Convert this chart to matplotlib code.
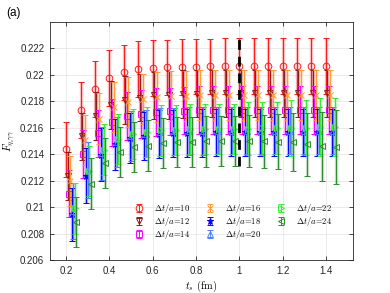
import numpy as np
import matplotlib
matplotlib.use("Agg")
import matplotlib.pyplot as plt

plt.rcParams['mathtext.fontset'] = 'cm'
plt.rcParams['font.family'] = ['Liberation Sans', 'DejaVu Sans']

ts = [0.2 + i / 15 for i in range(19)]
dt_labels = [10, 12, 14, 16, 18, 20, 22, 24]

F10 = [0.21436, 0.21735, 0.21892, 0.21975, 0.22018, 0.22045, 0.2205, 0.22056, 0.2206, 0.22063,
       0.22065, 0.22066, 0.22066, 0.22066, 0.22066, 0.22066, 0.22066, 0.22066, 0.22066]
E10 = [0.0021, 0.0021, 0.0021, 0.0021, 0.0021, 0.0021, 0.0021, 0.0021, 0.0021, 0.0021,
       0.0021, 0.0021, 0.0021, 0.0021, 0.0021, 0.0021, 0.0021, 0.0021, 0.0021]
F12 = [0.21234, 0.21535, 0.21689, 0.21772, 0.2181, 0.21828, 0.21845, 0.2185, 0.21855, 0.21858,
       0.2186, 0.2186, 0.2186, 0.2186, 0.2186, 0.2186, 0.2186, 0.2186, 0.2186]
E12 = [0.0018, 0.0018, 0.0018, 0.0018, 0.0018, 0.0018, 0.0018, 0.0018, 0.0018, 0.0018,
       0.0018, 0.0018, 0.0018, 0.0018, 0.0018, 0.0018, 0.0018, 0.0018, 0.0018]
F14 = [0.21102, 0.21402, 0.21557, 0.2164, 0.21687, 0.21702, 0.21717, 0.21724, 0.2173, 0.21733,
       0.21735, 0.21735, 0.21735, 0.21735, 0.21735, 0.21735, 0.21735, 0.21735, 0.21735]
E14 = [0.0018, 0.0018, 0.0018, 0.0018, 0.0018, 0.0018, 0.0018, 0.0018, 0.0018, 0.0018,
       0.0018, 0.0018, 0.0018, 0.0018, 0.0018, 0.0018, 0.0018, 0.0018, 0.0018]
F16 = [0.21200, 0.21510, 0.21670, 0.21755, 0.21795, 0.21815, 0.2183, 0.21838, 0.21842, 0.21845,
       0.21846, 0.21846, 0.21846, 0.21846, 0.21846, 0.21846, 0.21846, 0.21846, 0.21846]
E16 = [0.0019, 0.0019, 0.0019, 0.0019, 0.0019, 0.0019, 0.0019, 0.0019, 0.0019, 0.0019,
       0.0019, 0.0019, 0.0019, 0.0019, 0.0019, 0.0019, 0.0019, 0.0019, 0.0019]
F18 = [0.20945, 0.21238, 0.21395, 0.21474, 0.2152, 0.2154, 0.21552, 0.21557, 0.2156, 0.21562,
       0.21565, 0.21565, 0.21565, 0.21565, 0.21565, 0.21565, 0.21565, 0.21565, 0.21565]
E18 = [0.0020, 0.0021, 0.0020, 0.0019, 0.0019, 0.0018, 0.0018, 0.0018, 0.0018, 0.0018,
       0.0018, 0.0018, 0.0018, 0.0018, 0.0018, 0.0018, 0.0018, 0.0018, 0.0018]
F20 = [0.20972, 0.2128, 0.21408, 0.21495, 0.21538, 0.21556, 0.21568, 0.21572, 0.21575, 0.21577,
       0.21578, 0.21578, 0.21578, 0.21578, 0.21578, 0.21578, 0.21578, 0.21578, 0.21578]
E20 = [0.0021, 0.0021, 0.0020, 0.0019, 0.0019, 0.0018, 0.0018, 0.0018, 0.0018, 0.0018,
       0.0018, 0.0018, 0.0018, 0.0018, 0.0018, 0.0018, 0.0018, 0.0018, 0.0018]
F22 = [0.2099, 0.21274, 0.21435, 0.21514, 0.21552, 0.2157, 0.2158, 0.21585, 0.21588, 0.2159,
       0.2159, 0.21592, 0.21594, 0.21596, 0.21598, 0.216, 0.21602, 0.21604, 0.21606]
E22 = [0.0019, 0.0019, 0.0019, 0.0019, 0.0019, 0.0019, 0.0019, 0.0019, 0.0019, 0.0019,
       0.0019, 0.0019, 0.0020, 0.0020, 0.0020, 0.0021, 0.0021, 0.0022, 0.0022]
F24 = [0.20888, 0.21178, 0.21333, 0.21414, 0.21457, 0.21465, 0.21485, 0.2149, 0.21495, 0.21497,
       0.21498, 0.215, 0.215, 0.21497, 0.21495, 0.2149, 0.21475, 0.2146, 0.21455]
E24 = [0.0019, 0.0019, 0.0019, 0.0019, 0.0019, 0.0019, 0.0019, 0.0019, 0.0019, 0.0019,
       0.0019, 0.0019, 0.0020, 0.0020, 0.0021, 0.0022, 0.0024, 0.0026, 0.0028]

series = [F10, F12, F14, F16, F18, F20, F22, F24]
errors = [E10, E12, E14, E16, E18, E20, E22, E24]
colors = ['#ff1a1a', '#8c1a1a', '#ff00ff', '#ff9a33', '#0000ff', '#4d7fff', '#33ee33', '#2e8b2e']
markers = ['o', 'v', 's', 'x', '*', '^', '>', '<']
fills = ['none', 'none', 'none', 'full', 'full', 'none', 'none', 'none']

fig = plt.figure(figsize=(3.9, 2.93), dpi=100)
ax = fig.add_axes([0.128, 0.1126, 0.777, 0.8124])

handles = []
for i, (F, E, c, m, fs) in enumerate(zip(series, errors, colors, markers, fills)):
    x = np.array(ts) + i * (1 / 15) / 10
    ax.errorbar(x, F, yerr=E, fmt='none', ecolor=c, elinewidth=2.4, alpha=0.3, capsize=0, zorder=2 + i * 0.1)
    mfc = 'none' if fs == 'none' else c
    h = ax.errorbar(x, F, yerr=E, fmt=m, color=c, mec=c, mfc=mfc, ms=4.8, mew=0.7,
                    elinewidth=0.7, capsize=2.2, capthick=0.7, zorder=3 + i * 0.1,
                    label=r'$\Delta t/a$=%d' % dt_labels[i])
    handles.append(h)

ax.plot([1.0, 1.0], [0.2131, 0.2231], color='black', lw=2.0, ls=(0, (3.5, 2.5)), zorder=10)

ax.set_xlim(0.125, 1.525)
ax.set_ylim(0.206, 0.224)
xt = [0.2, 0.4, 0.6, 0.8, 1.0, 1.2, 1.4]
ax.set_xticks(xt)
ax.set_xticklabels(['0.2', '0.4', '0.6', '0.8', '1', '1.2', '1.4'])
yt = [0.206, 0.208, 0.21, 0.212, 0.214, 0.216, 0.218, 0.22, 0.222]
ax.set_yticks(yt)
ax.set_yticklabels(['0.206', '0.208', '0.21', '0.212', '0.214', '0.216', '0.218', '0.22', '0.222'])
ax.tick_params(direction='in', length=3, width=0.6, labelsize=7, colors='#262626',
               top=True, right=True, pad=4)
ax.grid(True, color='#e6e6e6', lw=0.6, zorder=0)
ax.set_axisbelow(True)
for s in ax.spines.values():
    s.set_color('#262626')
    s.set_linewidth(0.6)

ax.set_xlabel(r'$t_s$ (fm)', fontsize=7.5, family='cmr10', labelpad=2)
ax.set_ylabel(r'$F_{\eta_c\gamma\gamma}$', fontsize=7.5)
ax.yaxis.set_label_coords(-0.108, 0.5)
fig.text(0.015, 0.955, '(a)', fontsize=8.5, ha='left', va='center')

leg = ax.legend(handles=handles, ncol=3, loc='lower left', bbox_to_anchor=(0.257, 0.055),
                frameon=False, prop={'family': 'cmr10', 'size': 6.2},
                handlelength=1.2, handletextpad=1.2, columnspacing=1.65, labelspacing=0.0,
                borderpad=0.2)

fig.savefig('out.png', dpi=100)
